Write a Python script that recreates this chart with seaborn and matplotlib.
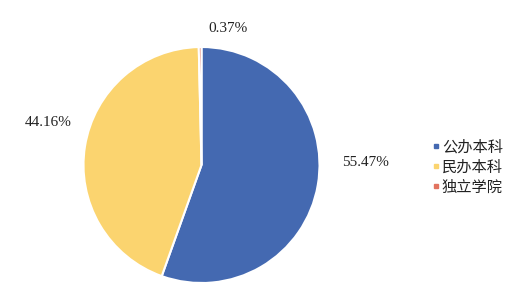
import matplotlib
matplotlib.use("Agg")
import matplotlib.pyplot as plt
import seaborn as sns
from matplotlib.lines import Line2D

categories = ["公办本科", "民办本科", "独立学院"]
values = [55.47, 44.16, 0.37]
colors = ["#4469B1", "#FBD46F", "#E2735F"]

sns.set_theme(style="white")
plt.rcParams['font.family'] = ['Noto Sans CJK SC', 'DejaVu Sans']

fig = plt.figure(figsize=(5.15, 3.01), dpi=100)
cx, cy, r = 201.5, 165, 118
ax = fig.add_axes([(cx - r) / 515, 1 - (cy + r) / 301, 2 * r / 515, 2 * r / 301])

wedges, texts = ax.pie(values, colors=colors, startangle=90, counterclock=False,
                       wedgeprops=dict(edgecolor="white", linewidth=1.5))
ax.set_aspect("equal")
ax.set_xlim(-1, 1)
ax.set_ylim(-1, 1)

label_xy = [(1.386, 0.017), (-1.30, 0.356), (0.225, 1.16)]
for v, (x, y) in zip(values, label_xy):
    ax.text(x, y, f"{v:.2f}%", ha="center", va="center", fontsize=11,
            family="Liberation Serif", color="#222222")

handles = [Line2D([0], [0], marker="s", linestyle="", markersize=3.2,
                  markerfacecolor=c, markeredgecolor=c) for c in colors]
fig.legend(handles, categories, loc="center left", bbox_to_anchor=(432 / 515, 1 - 167 / 301),
           frameon=False, fontsize=11, handlelength=0.5, handletextpad=0.15,
           labelspacing=0.2, borderpad=0, borderaxespad=0, labelcolor="#222222")

fig.savefig("out.png", dpi=100)
